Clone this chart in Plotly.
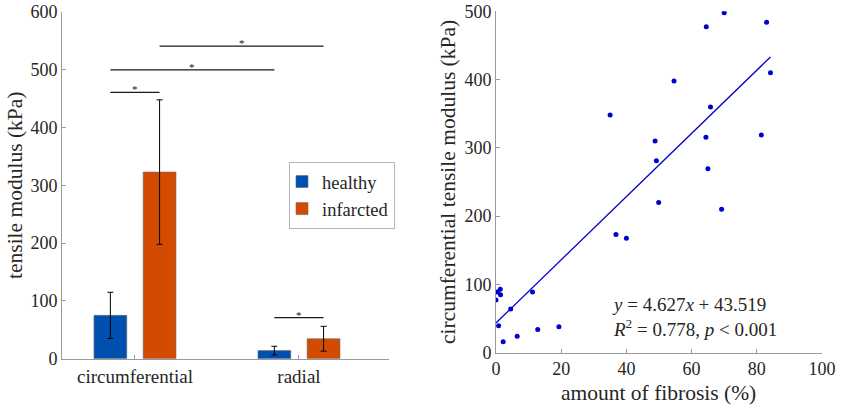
import plotly.graph_objects as go

# ---------------- data ----------------
categories = ["circumferential", "radial"]
healthy_mean = [75, 14]
healthy_sd = [40, 7.5]
infarcted_mean = [323, 34.5]
infarcted_sd = [125, 21.5]
series_names = ["healthy", "infarcted"]

# significance brackets: from (group, series) to (group, series) at height
sig_from_group = [0, 0, 0, 1]
sig_from_series = [0, 0, 1, 0]
sig_to_group = [0, 1, 1, 1]
sig_to_series = [1, 0, 1, 1]
sig_height = [461, 500, 541, 71]
sig_label = ["*", "*", "*", "*"]

fibrosis = [0.0, 0.4, 1.3, 1.4, 0.8, 2.2, 4.5, 6.5, 11.2, 12.8, 19.3, 35.0, 36.8,
            40.0, 48.8, 49.2, 49.9, 54.6, 64.5, 64.4, 65.8, 65.0, 69.2, 70.0,
            83.0, 81.4, 84.2]
circ_modulus = [77, 89, 93, 85, 39.5, 16, 64, 24, 89, 34, 38, 348, 173,
                167.5, 310, 281, 220, 398, 477.5, 315.5, 360, 269.5, 210, 498,
                484, 319, 410]
fit_slope = 4.627
fit_intercept = 43.519
fit_r2 = 0.778

# ---------------- style ----------------
FONT = "'Liberation Serif', Tinos, 'Times New Roman', 'DejaVu Serif', serif"
TXT = "#262626"
AXC = "#9a9a9a"
BLUE = "#0050b0"
ORANGE = "#d24b00"
PTS = "#0000d0"
W, H = 843, 408
BAR_OFF = 0.15

fig = go.Figure()

fig.add_trace(go.Bar(
    x=list(range(len(categories))), y=healthy_mean, name=series_names[0],
    marker=dict(color=BLUE, line=dict(color="#6a6a6a", width=0.6)),
    error_y=dict(type="data", array=healthy_sd, color="black", thickness=1, width=3),
    xaxis="x", yaxis="y"))
fig.add_trace(go.Bar(
    x=list(range(len(categories))), y=infarcted_mean, name=series_names[1],
    marker=dict(color=ORANGE, line=dict(color="#6a6a6a", width=0.6)),
    error_y=dict(type="data", array=infarcted_sd, color="black", thickness=1, width=3),
    xaxis="x", yaxis="y"))

def pos(g, s):
    return g + (s - 0.5) * 2 * BAR_OFF

sx, sy = [], []
for fg, fs, tg, ts, h in zip(sig_from_group, sig_from_series, sig_to_group, sig_to_series, sig_height):
    sx += [pos(fg, fs), pos(tg, ts), None]
    sy += [h, h, None]
fig.add_trace(go.Scatter(x=sx, y=sy, mode="lines", line=dict(color="#1a1a1a", width=1.3),
                         showlegend=False, hoverinfo="skip", xaxis="x", yaxis="y"))

annotations = []
for fg, fs, tg, ts, h, lab in zip(sig_from_group, sig_from_series, sig_to_group, sig_to_series, sig_height, sig_label):
    annotations.append(dict(x=(pos(fg, fs) + pos(tg, ts)) / 2, y=h, xref="x", yref="y",
                            text=lab, showarrow=False, xanchor="center", yanchor="middle",
                            yshift=3, font=dict(family=FONT, size=11, color="#111")))

# right panel
fig.add_trace(go.Scatter(x=fibrosis, y=circ_modulus, mode="markers",
                         marker=dict(color=PTS, size=5), showlegend=False,
                         xaxis="x2", yaxis="y2"))
xl = [min(fibrosis), max(fibrosis)]
fig.add_trace(go.Scatter(x=xl, y=[fit_slope * v + fit_intercept for v in xl], mode="lines",
                         line=dict(color=PTS, width=1.3), showlegend=False,
                         xaxis="x2", yaxis="y2"))

annotations.append(dict(
    x=35, y=53, xref="x2", yref="y2", xanchor="left", yanchor="middle", showarrow=False,
    align="left",
    text=(f"<i>y</i> = {fit_slope:.3f}<i>x</i> + {fit_intercept:.3f}<br>"
          f"<i>R</i><sup>2</sup> = {fit_r2:.3f}, <i>p</i> &lt; 0.001"),
    font=dict(family=FONT, size=19, color=TXT)))

# axis titles
annotations += [
    dict(x=15 / W, y=1 - 185 / H, xref="paper", yref="paper", text="tensile modulus (kPa)",
         xanchor="center", yanchor="middle",
         textangle=-90, showarrow=False, font=dict(family=FONT, size=21.5, color=TXT)),
    dict(x=448 / W, y=1 - 182 / H, xref="paper", yref="paper",
         text="circumferential tensile modulus (kPa)", xanchor="center", yanchor="middle",
         textangle=-90, showarrow=False, font=dict(family=FONT, size=21.5, color=TXT)),
    dict(x=658 / W, y=1 - 393 / H, xref="paper", yref="paper", text="amount of fibrosis (%)",
         xanchor="center", yanchor="middle",
         showarrow=False, font=dict(family=FONT, size=21.5, color=TXT)),
]

def ax(fs=18):
    return dict(showline=True, linecolor=AXC, linewidth=1, ticks="inside", ticklen=4,
                tickcolor=AXC, showgrid=False, zeroline=False, automargin=False,
                tickfont=dict(family=FONT, size=fs, color=TXT))

fig.update_layout(
    width=W, height=H, margin=dict(l=0, r=0, t=0, b=0, autoexpand=False),
    font=dict(family=FONT, color=TXT),
    paper_bgcolor="white", plot_bgcolor="white",
    barmode="group", bargap=0.4, bargroupgap=1 / 3,
    xaxis=dict(**ax(19), domain=[62 / W, 389 / W], range=[-0.445, 1.549],
               tickvals=list(range(len(categories))), ticktext=categories, anchor="y"),
    yaxis=dict(**ax(), domain=[1 - 358.7 / H, 1 - 12 / H], range=[0, 600], dtick=100,
               anchor="x"),
    xaxis2=dict(**ax(), domain=[496 / W, 822 / W], range=[0, 100], dtick=20, anchor="y2"),
    yaxis2=dict(**ax(), domain=[1 - 352.7 / H, 1 - 11.3 / H], range=[0, 500], dtick=100,
                anchor="x2"),
    legend=dict(x=289 / W, y=1 - 162 / H, xanchor="left", yanchor="top",
                bgcolor="white", bordercolor="#b5b5b5", borderwidth=1,
                font=dict(family=FONT, size=18.5, color=TXT), tracegroupgap=0,
                itemwidth=30, indentation=-8),
    annotations=annotations,
)

fig.write_html("out.html")
